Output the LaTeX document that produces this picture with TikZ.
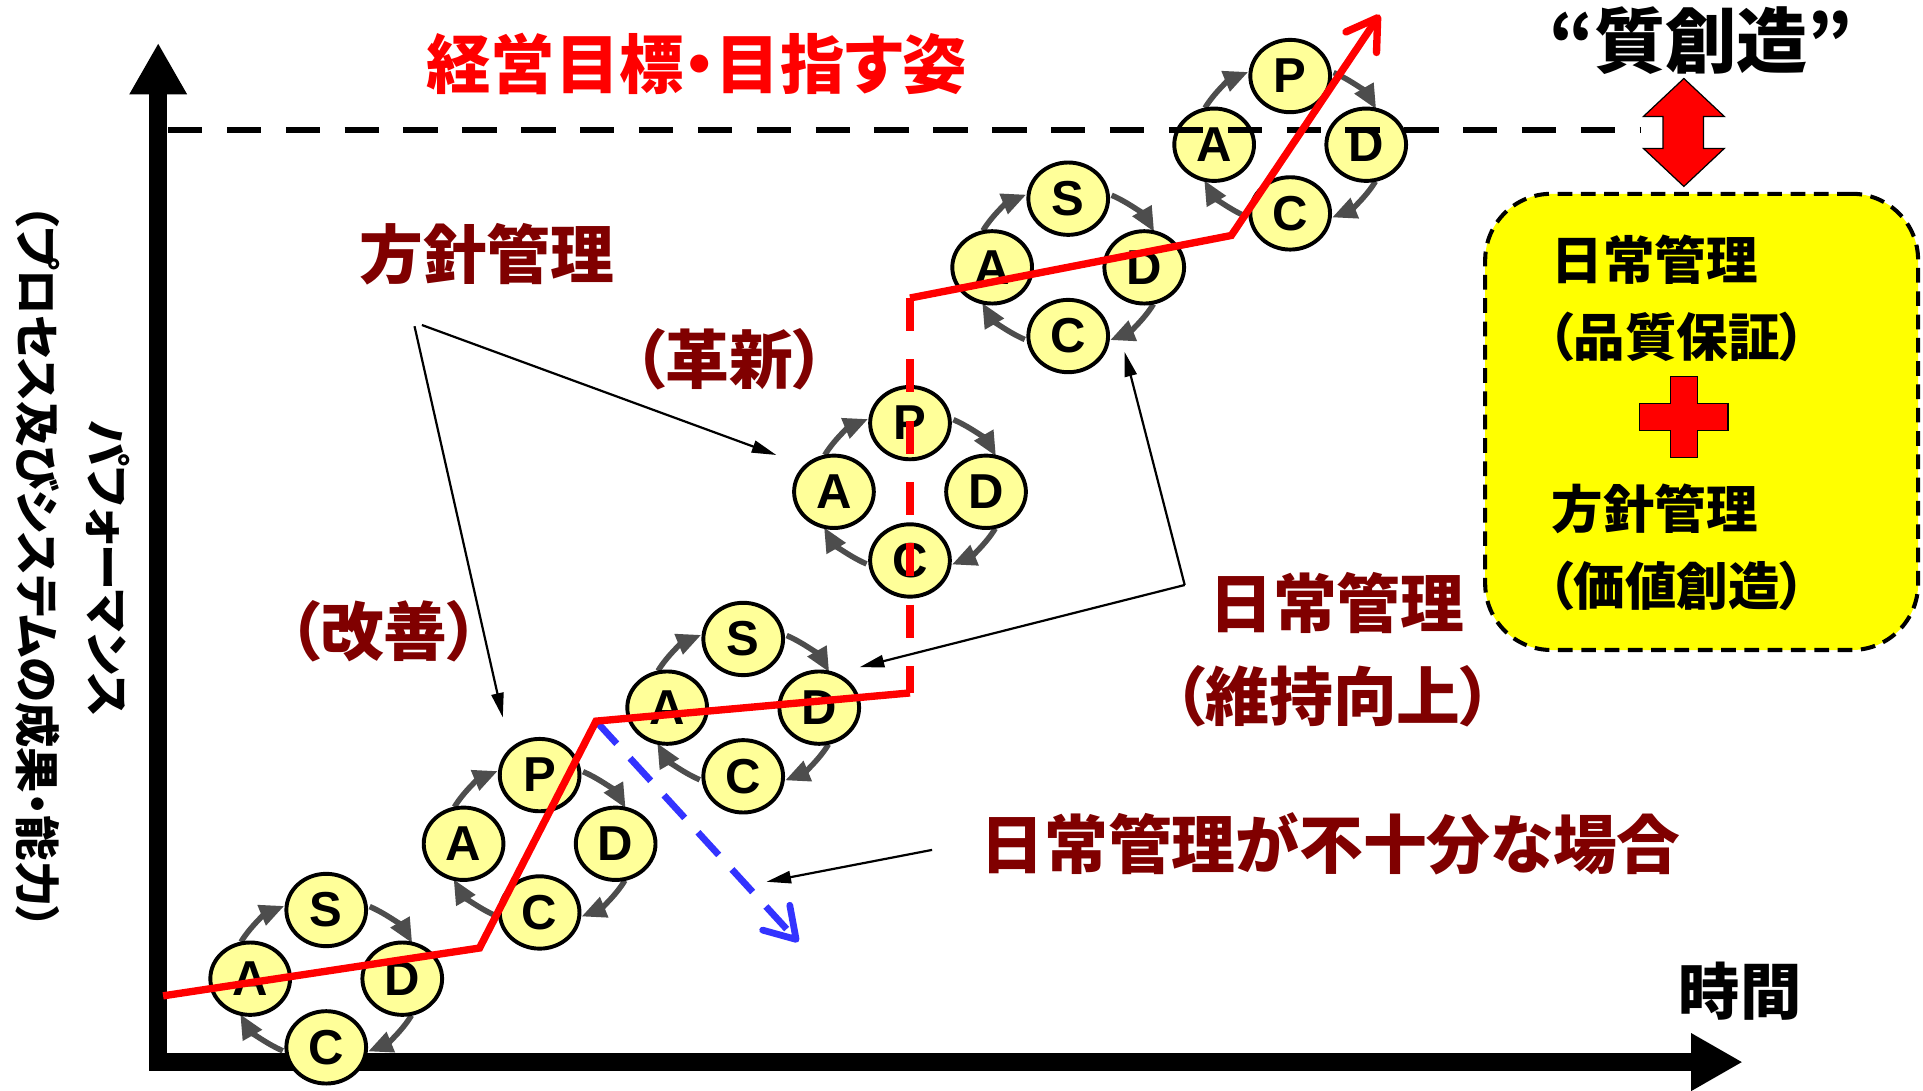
\documentclass[tikz,border=0pt]{standalone}
\usepackage{fontspec}
\usetikzlibrary{arrows.meta,shapes.geometric}
\setmainfont{Liberation Sans}
\newfontfamily\jpf{Noto Sans CJK JP}[RawFeature=+palt]
\newfontfamily\latf{Liberation Sans}
\definecolor{cred}{RGB}{255,0,0}
\definecolor{cdark}{RGB}{128,0,0}
\definecolor{cyel}{RGB}{255,255,153}
\definecolor{cyb}{RGB}{255,255,0}
\definecolor{cgray}{RGB}{77,77,77}
\definecolor{cblue}{RGB}{51,51,255}
\newcommand\jpsz[1]{\jpf\bfseries\fontsize{#1}{#1}\selectfont}
\tikzset{
 ell/.style={ellipse, draw=black, line width=3.2pt, fill=cyel, minimum width=65pt, minimum height=59pt, inner sep=0pt, font=\latf\bfseries\fontsize{40}{40}\selectfont},
 cyc/.style={draw=cgray, line width=4.5pt, -{Triangle[length=20pt,width=17pt]}},
 ann/.style={draw=black, line width=1.8pt, -{Triangle[length=20pt,width=10pt]}},
 drtext/.style={text=cdark, font=\jpsz{52}, inner sep=0pt},
 boxtext/.style={text=black, font=\jpsz{42}, inner sep=0pt, anchor=west},
 redline/.style={draw=cred, line width=6pt},
}
\newcommand\pdcacycle[4]{%
 \coordinate (#1) at (#2,#3);
 \draw[cyc] ([shift={(207:78 and 66)}]#1) arc[start angle=207,end angle=244,x radius=78,y radius=66];
 \draw[cyc] ([shift={(297:78 and 66)}]#1) arc[start angle=297,end angle=334,x radius=78,y radius=66];
 \draw[cyc] ([shift={(27:78 and 66)}]#1) arc[start angle=27,end angle=64,x radius=78,y radius=66];
 \draw[cyc] ([shift={(117:78 and 66)}]#1) arc[start angle=117,end angle=154,x radius=78,y radius=66];
 \node[ell] (#1T) at ([shift={(0,-56)}]#1) {#4};
 \node[ell] (#1A) at ([shift={(-62,0)}]#1) {A};
 \node[ell] (#1D) at ([shift={(62,0)}]#1) {D};
 \node[ell] (#1C) at ([shift={(0,56)}]#1) {C};
}
\begin{document}
\begin{tikzpicture}[x=1pt,y=-1pt]
\fill[white] (0,0) rectangle (1568,889);
\useasboundingbox (0,0) rectangle (1568,889);
% axes
\coordinate (ytip) at (129,35);
\coordinate (origin) at (129,866);
\coordinate (xtip) at (1421,866);
\draw[line width=15pt, line join=miter, {Triangle[length=42pt,width=44pt]}-{Triangle[length=42pt,width=44pt]}] (ytip) -- (origin) -- (xtip);
% cycles
\pdcacycle{c1}{266}{798}{S}
\pdcacycle{c2}{440}{688}{P}
\pdcacycle{c3}{606}{577}{S}
\pdcacycle{c4}{742}{401}{P}
\pdcacycle{c5}{871}{218}{S}
\pdcacycle{c6}{1052}{118}{P}
% target dashed line
\coordinate (g0) at (137,106);
\coordinate (g1) at (1338,106);
\draw[line width=5.5pt, dash pattern=on 28pt off 20pt] (g0) -- (g1);
% red path
\coordinate (r0) at (133,812);
\coordinate (r1) at (391,773);
\coordinate (r2) at (486,588);
\coordinate (r3) at (742,565);
\coordinate (r4) at (742,243);
\coordinate (r5) at (1004,192);
\coordinate (r6) at (1125,12);
\coordinate (b1) at (651,768);
\draw[draw=cblue, line width=5.5pt, dash pattern=on 25pt off 16pt, -{Straight Barb[length=24pt,width=30pt,round]}] (r2) -- (b1);
\draw[redline] (r0) -- (r1) -- (r2) -- (r3);
\draw[redline, dash pattern=on 27pt off 23pt] (r4) -- (r3);
\draw[redline, -{Straight Barb[length=24pt,width=30pt,round]}] (r4) -- (r5) -- (r6);
% annotation arrows
\coordinate (h0) at (338,266);
\coordinate (h1) at (344,265);
\coordinate (h2) at (633,371);
\coordinate (h3) at (410,585);
\draw[ann] (h1) -- (h2);
\draw[ann] (h0) -- (h3);
\coordinate (n0) at (966,477);
\coordinate (n1) at (917,287);
\coordinate (n2) at (701,544);
\draw[ann] (n0) -- (n1);
\draw[ann] (n0) -- (n2);
\coordinate (f0) at (760,693);
\coordinate (f1) at (625,719);
\draw[ann] (f0) -- (f1);
% texts
\node[text=cred, font=\jpsz{52.5}, inner sep=0pt] (title) at (568,52) {経営目標・目指す姿};
\node[font=\jpsz{58}, inner sep=0pt] (shitsu) at (1387,33) {“質創造”};
\node[drtext] (hoshin) at (397,207) {方針管理};
\node[drtext] (kakushin) at (595,293) {（革新）};
\node[drtext] (kaizen) at (313,515) {（改善）};
\node[drtext] (nichijo) at (1090,492) {日常管理};
\node[drtext] (iji) at (1087,568) {（維持向上）};
\node[drtext] (fujubun) at (1085,688) {日常管理が不十分な場合};
\node[font=\jpsz{50}, inner sep=0pt] (jikan) at (1419,808) {時間};
\node[rotate=-90, font=\jpsz{37.5}, inner sep=0pt] (perf) at (88,464) {パフォーマンス};
\node[rotate=-90, font=\jpsz{37}, inner sep=0pt] (perf2) at (31,462) {（プロセス及びシステムの成果・能力）};
% box
\node[draw=black, line width=3.3pt, dash pattern=on 12pt off 7pt, fill=cyb, rounded corners=54pt, minimum width=353pt, minimum height=372pt, inner sep=0pt] (box) at (1387.5,344) {};
\node[boxtext] (b1t) at (1265,212) {日常管理};
\node[boxtext] (b2t) at (1262,275) {（品質保証）};
\node[boxtext] (b3t) at (1265,415) {方針管理};
\node[boxtext] (b4t) at (1262,478) {（価値創造）};
\filldraw[fill=cred, draw=black, line width=1pt] (1362,307) -- (1384,307) -- (1384,329) -- (1409,329) -- (1409,351) -- (1384,351) -- (1384,373) -- (1362,373) -- (1362,351) -- (1337,351) -- (1337,329) -- (1362,329) -- cycle;
% double arrow
\filldraw[fill=cred, draw=black, line width=1pt] (1373,64) -- (1406,95) -- (1389,95) -- (1389,121) -- (1406,121) -- (1373,152) -- (1340,121) -- (1356,121) -- (1356,95) -- (1340,95) -- cycle;
\end{tikzpicture}
\end{document}
